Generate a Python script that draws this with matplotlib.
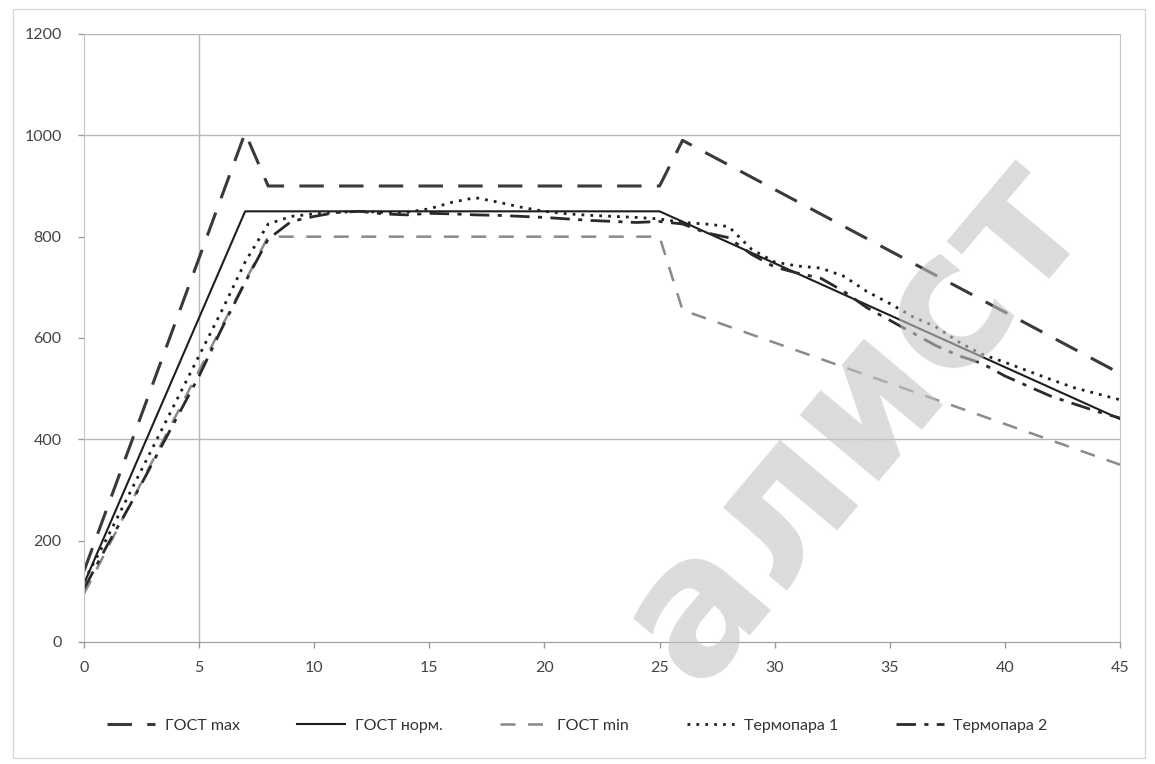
import matplotlib
matplotlib.use('Agg')
import matplotlib.pyplot as plt

plt.rcParams['font.family'] = ['Lato', 'DejaVu Sans']

# ---- data (minutes, deg C) ----
gost_max_t = [0, 7, 8, 25, 26, 45]
gost_max_v = [140, 1005, 900, 900, 990, 530]

gost_norm_t = [0, 7, 25, 45]
gost_norm_v = [115, 850, 850, 440]

gost_min_t = [0, 8, 25, 26, 45]
gost_min_v = [95, 800, 800, 655, 350]

minutes = list(range(46))
termo1 = [120, 205, 295, 385, 475, 565, 655, 750, 825, 840,
          845, 848, 850, 848, 848, 855, 868, 877, 868, 858,
          850, 845, 842, 840, 838, 835, 828, 825, 820, 775,
          750, 742, 738, 722, 692, 668, 642, 622, 592, 568,
          552, 535, 518, 502, 490, 478]
termo2 = [105, 190, 270, 355, 440, 525, 620, 710, 795, 830,
          840, 848, 850, 845, 843, 846, 845, 843, 842, 840,
          838, 835, 832, 830, 828, 830, 825, 808, 798, 765,
          740, 728, 718, 692, 660, 635, 610, 585, 565, 550,
          525, 505, 485, 470, 455, 442]

x_ticks = [0, 5, 10, 15, 20, 25, 30, 35, 40, 45]
y_ticks = [0, 200, 400, 600, 800, 1000, 1200]

fig = plt.figure(figsize=(11.55, 7.64), dpi=100)
ax = fig.add_axes([0.0727, 0.1597, 0.897, 0.7958])

# sparse grid as in the scanned chart
for yv in [400, 1000, 1200]:
    ax.axhline(yv, color='#b8b8b8', lw=1.0, zorder=0)
ax.axvline(5, color='#b8b8b8', lw=1.0, zorder=0)

ax.plot(gost_max_t, gost_max_v, color='#3a3a3a', lw=2.2, dashes=(8, 5), label='ГОСТ max')
ax.plot(gost_norm_t, gost_norm_v, color='#1e1e1e', lw=1.5, label='ГОСТ норм.')
ax.plot(gost_min_t, gost_min_v, color='#8a8a8a', lw=1.8, dashes=(6, 5), label='ГОСТ min')
ax.plot(minutes, termo1, color='#202020', lw=2.0, dashes=(1, 2.2), label='Термопара 1')
ax.plot(minutes, termo2, color='#2a2a2a', lw=2.0, dashes=(7, 3, 1.5, 3), label='Термопара 2')

ax.set_xlim(0, 45)
ax.set_ylim(0, 1200)
ax.set_xticks(x_ticks)
ax.set_yticks(y_ticks)
ax.tick_params(axis='both', colors='#9a9a9a', labelcolor='#444444', labelsize=11.5,
               length=4, width=1.0)
ax.tick_params(axis='y', pad=12)
ax.tick_params(axis='x', pad=10)
ax.spines['top'].set_visible(False)
ax.spines['left'].set_color('#c4c4c4')
ax.spines['right'].set_color('#c4c4c4')
ax.spines['bottom'].set_color('#9a9a9a')

leg = fig.legend(loc='center', bbox_to_anchor=(0.5, 0.05), ncol=5, frameon=False,
                 fontsize=11.5, handlelength=3.0, columnspacing=3.6, handletextpad=0.6)
for t in leg.get_texts():
    t.set_color('#333333')

# outer chart frame
fig.patches.append(plt.Rectangle((0.011, 0.008), 0.98, 0.98, transform=fig.transFigure,
                                 fill=False, edgecolor='#d8d8d8', lw=1.0))

# watermark of the scanned source
fig.text(0.74, 0.45, 'алист', rotation=50, fontsize=135, fontweight='bold',
         color='#c4c4c4', alpha=0.6, ha='center', va='center',
         family=['DejaVu Sans'], zorder=5)

fig.savefig('out.png', dpi=100, facecolor='white')
